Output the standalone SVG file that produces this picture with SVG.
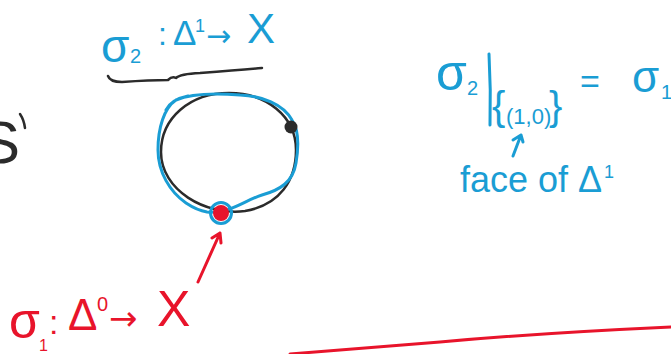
<svg xmlns="http://www.w3.org/2000/svg" width="671" height="354" viewBox="0 0 671 354">
<style>
.b{fill:#1a9dd4;font-family:"Liberation Sans","DejaVu Sans",sans-serif}
.r{fill:#e8142b;font-family:"Liberation Sans","DejaVu Sans",sans-serif}
.k{fill:#2b2b2b;font-family:"Liberation Sans","DejaVu Sans",sans-serif}
.ar{font-family:"DejaVu Sans",sans-serif}
.sb{fill:none;stroke:#1a9dd4;stroke-width:3;stroke-linecap:round;stroke-linejoin:round}
.sr{fill:none;stroke:#e8142b;stroke-width:3;stroke-linecap:round;stroke-linejoin:round}
.sk{fill:none;stroke:#2b2b2b;stroke-width:2.5;stroke-linecap:round;stroke-linejoin:round}
</style>
<rect width="671" height="354" fill="#fff"/>
<g id="s1-label">
<text class="k" x="-20" y="163" font-size="60">S</text>
<path class="sk" d="M20 114 Q24 120 25 128"/>
</g>
<g id="sigma2-label">
<text class="b" x="101" y="62" font-size="46">σ</text>
<text class="b" x="130" y="63" font-size="20">2</text>
<text class="b" x="158" y="45" font-size="32">:</text>
<text class="b" x="173" y="45" font-size="35">Δ</text>
<text class="b" x="195" y="32" font-size="18">1</text>
<text class="b ar" x="206" y="46" font-size="30">→</text>
<text class="b" x="247" y="43" font-size="42">X</text>
<path class="sk" d="M108 76 Q110 82 122 82 Q150 80 168 80 Q172 76 176 78 Q180 74 200 73 Q240 70 262 68"/>
</g>
<g id="circle-node">
<path class="sk" d="M161 152 C161 118, 190 93, 229 93 C266 93, 296 116, 296 150 C296 180, 280 205, 245 211 C205 216, 161 190, 161 152 Z"/>
<path class="sb" stroke-width="3.5" d="M207 212 C 230 214, 245 200, 262 195 C 280 190, 293 182, 296 163 C 299 145, 299 130, 292 120 C 283 104, 262 96, 240 95 C 215 93, 190 94, 176 100 C 164 108, 158 128, 158 150 C 158 172, 170 192, 186 203 C 195 209, 201 211, 207 212 Z M166 110 C 170 102, 178 98, 188 96"/>
<circle cx="291" cy="127" r="6.5" fill="#2b2b2b"/>
<circle cx="221" cy="213" r="10.5" fill="none" stroke="#1a9dd4" stroke-width="3"/>
<circle cx="221" cy="213" r="8" fill="#e8142b"/>
</g>
<g id="restriction-label">
<text class="b" x="436" y="90" font-size="50">σ</text>
<text class="b" x="467" y="95" font-size="20">2</text>
<path class="sb" d="M489 54 Q491 90 490 125"/>
<text class="b" x="492" y="120" font-size="40">{</text>
<text class="b" x="506" y="124" font-size="22">(1,0)</text>
<text class="b" x="549" y="120" font-size="40">}</text>
<text class="b" x="580" y="93" font-size="34">=</text>
<text class="b" x="632" y="92" font-size="44">σ</text>
<text class="b" x="661" y="99" font-size="20">1</text>
</g>
<g id="face-label">
<text class="b" x="460" y="192" font-size="36">face of Δ</text>
<text class="b" x="604" y="178" font-size="18">1</text>
</g>
<g id="sigma1-label">
<text class="r" x="9" y="338" font-size="50">σ</text>
<text class="r" x="39" y="351" font-size="16">1</text>
<text class="r" x="49" y="334" font-size="34">:</text>
<text class="r" x="68" y="330" font-size="44">Δ</text>
<text class="r" x="97" y="311" font-size="20">0</text>
<text class="r ar" x="109" y="330" font-size="34">→</text>
<text class="r" x="157" y="326" font-size="50">X</text>
</g>
<g id="connectors">
<path class="sb" stroke-width="2.5" d="M513 156 L521 135 M513 140 L521 135 L523 142"/>
<path class="sr" stroke-width="2.5" d="M198 282 L220 233 M212 238 L220 233 L221 243"/>
<path class="sr" d="M290 354 Q350 349 440 342 Q540 333 671 327"/>
</g>
</svg>
